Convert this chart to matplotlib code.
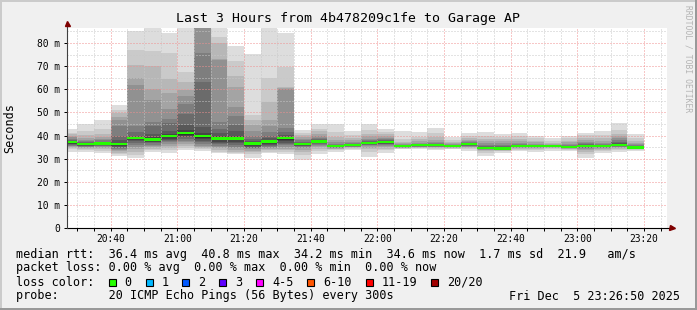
import numpy as np
import matplotlib
matplotlib.use("Agg")
from matplotlib import pyplot as plt
from matplotlib.patches import Rectangle

# 5 minute rounds, 20 pings each (sorted, ms)
bar_times = ["20:25", "20:30", "20:35", "20:40", "20:45", "20:50", "20:55",
             "21:00", "21:05", "21:10", "21:15", "21:20", "21:25", "21:30",
             "21:35", "21:40", "21:45", "21:50", "21:55", "22:00", "22:05",
             "22:10", "22:15", "22:20", "22:25", "22:30", "22:35", "22:40",
             "22:45", "22:50", "22:55", "23:00", "23:05", "23:10", "23:15"]

pings = [
    [33.0, 34.0, 34.6, 35.0, 35.3, 35.6, 35.9, 36.2, 36.5, 36.8, 37.2, 37.5, 37.8, 38.2, 38.6, 39.2, 40.0, 40.6, 41.2, 42.6],
    [32.8, 33.8, 34.3, 34.7, 35.0, 35.2, 35.4, 35.6, 35.8, 35.9, 36.1, 36.3, 36.6, 37.0, 37.5, 38.2, 39.0, 40.2, 42.0, 45.0],
    [32.6, 33.5, 34.2, 34.7, 35.0, 35.3, 35.6, 35.8, 36.0, 36.2, 36.4, 36.7, 37.0, 37.4, 37.9, 38.6, 39.5, 40.8, 43.0, 46.7],
    [31.0, 31.8, 32.6, 33.3, 33.8, 34.2, 34.6, 35.0, 35.4, 35.8, 36.2, 36.8, 38.0, 40.0, 44.0, 46.7, 48.1, 49.7, 51.0, 53.2],
    [30.1, 31.5, 33.0, 34.0, 35.0, 36.0, 36.8, 37.5, 38.0, 38.4, 38.8, 39.3, 40.0, 41.5, 44.1, 61.8, 64.7, 70.5, 76.9, 85.0],
    [32.8, 33.6, 34.3, 35.0, 35.6, 36.1, 36.6, 37.0, 37.4, 37.8, 38.4, 39.2, 40.5, 44.0, 46.0, 55.4, 60.0, 70.1, 76.7, 86.3],
    [32.5, 33.6, 34.6, 35.5, 36.3, 37.0, 37.6, 38.2, 38.7, 39.2, 39.8, 40.5, 42.0, 45.3, 47.3, 51.4, 58.5, 64.6, 75.5, 84.2],
    [33.6, 34.4, 35.3, 36.2, 37.0, 37.8, 38.5, 39.2, 39.8, 40.4, 41.2, 42.5, 44.5, 49.5, 53.5, 57.2, 59.5, 63.0, 67.5, 86.3],
    [33.5, 34.0, 34.5, 35.0, 35.6, 36.3, 37.0, 37.8, 38.4, 39.0, 40.0, 41.0, 43.8, 63.3, 75.5, 88.0, 92.0, 96.0, 100.0, 110.0],
    [32.3, 33.0, 33.8, 34.4, 35.0, 35.6, 36.2, 36.8, 37.4, 38.0, 39.0, 39.8, 41.0, 43.0, 46.0, 72.8, 73.2, 79.9, 82.7, 87.5],
    [32.1, 32.5, 33.0, 33.8, 34.5, 35.2, 36.0, 36.8, 37.4, 38.0, 39.0, 40.0, 41.8, 44.5, 48.6, 52.4, 61.0, 65.8, 72.4, 78.8],
    [30.1, 31.8, 32.8, 33.5, 34.0, 34.4, 34.8, 35.2, 35.6, 36.0, 36.6, 37.0, 37.5, 38.5, 40.0, 42.0, 44.5, 46.7, 49.0, 75.2],
    [32.3, 33.0, 33.7, 34.3, 34.8, 35.2, 35.6, 36.0, 36.4, 36.9, 37.5, 38.0, 38.8, 39.8, 41.5, 44.0, 46.5, 54.5, 64.9, 86.3],
    [32.0, 32.8, 33.6, 34.3, 35.0, 35.7, 36.3, 36.9, 37.5, 38.2, 39.0, 39.5, 40.2, 41.5, 43.1, 60.3, 60.6, 61.0, 69.8, 84.2],
    [29.5, 31.5, 33.0, 33.8, 34.4, 34.9, 35.3, 35.6, 35.8, 35.9, 36.1, 36.4, 36.8, 37.3, 37.9, 38.6, 39.4, 40.2, 41.2, 42.4],
    [31.9, 33.2, 34.2, 34.9, 35.5, 35.9, 36.3, 36.6, 36.9, 37.1, 37.3, 37.6, 38.0, 38.5, 39.1, 39.9, 40.8, 41.8, 43.0, 45.0],
    [33.0, 33.6, 34.0, 34.3, 34.6, 34.8, 35.0, 35.1, 35.2, 35.3, 35.4, 35.6, 35.8, 36.1, 36.5, 37.1, 38.0, 39.2, 41.5, 45.0],
    [33.7, 34.2, 34.6, 34.9, 35.1, 35.2, 35.3, 35.4, 35.5, 35.6, 35.7, 35.8, 36.0, 36.3, 36.7, 37.2, 38.0, 39.0, 40.3, 42.0],
    [30.9, 32.8, 34.0, 34.8, 35.3, 35.7, 36.0, 36.2, 36.4, 36.5, 36.6, 36.8, 37.1, 37.5, 38.0, 38.7, 39.6, 40.8, 42.5, 45.0],
    [32.6, 33.6, 34.3, 34.9, 35.4, 35.8, 36.2, 36.5, 36.7, 36.8, 37.0, 37.2, 37.5, 37.9, 38.4, 39.0, 39.8, 40.7, 41.6, 42.7],
    [34.0, 34.3, 34.5, 34.7, 34.8, 34.9, 35.0, 35.1, 35.1, 35.2, 35.3, 35.4, 35.5, 35.7, 35.9, 36.2, 36.6, 37.2, 38.5, 42.0],
    [34.0, 34.4, 34.7, 34.9, 35.1, 35.2, 35.3, 35.4, 35.5, 35.6, 35.7, 35.8, 36.0, 36.2, 36.5, 36.9, 37.5, 38.3, 39.5, 41.4],
    [33.7, 34.2, 34.6, 34.9, 35.1, 35.2, 35.3, 35.4, 35.5, 35.6, 35.7, 35.8, 36.0, 36.3, 36.7, 37.3, 38.2, 39.4, 41.0, 43.2],
    [34.0, 34.3, 34.6, 34.8, 34.9, 35.0, 35.1, 35.1, 35.2, 35.2, 35.3, 35.4, 35.5, 35.7, 35.9, 36.2, 36.6, 37.2, 38.2, 39.5],
    [33.4, 34.0, 34.5, 34.9, 35.2, 35.4, 35.6, 35.8, 35.9, 36.0, 36.1, 36.2, 36.4, 36.7, 37.0, 37.5, 38.1, 38.8, 39.8, 41.0],
    [31.1, 32.5, 33.2, 33.6, 33.9, 34.1, 34.2, 34.3, 34.4, 34.5, 34.6, 34.8, 35.1, 35.5, 36.0, 36.7, 37.6, 38.6, 39.9, 41.4],
    [32.6, 33.1, 33.4, 33.6, 33.8, 33.9, 34.0, 34.1, 34.2, 34.2, 34.3, 34.5, 34.8, 35.3, 35.9, 36.7, 37.6, 38.5, 39.5, 40.7],
    [33.4, 33.9, 34.3, 34.6, 34.8, 34.9, 35.0, 35.1, 35.1, 35.2, 35.3, 35.4, 35.6, 35.9, 36.3, 36.9, 37.6, 38.5, 39.6, 41.0],
    [33.0, 33.7, 34.2, 34.5, 34.7, 34.9, 35.0, 35.1, 35.1, 35.2, 35.3, 35.4, 35.5, 35.7, 36.0, 36.4, 37.0, 37.8, 38.8, 39.9],
    [33.4, 34.0, 34.4, 34.7, 34.9, 35.0, 35.1, 35.1, 35.2, 35.2, 35.3, 35.3, 35.4, 35.5, 35.7, 35.9, 36.3, 36.8, 37.6, 38.8],
    [33.4, 33.8, 34.1, 34.3, 34.4, 34.5, 34.6, 34.6, 34.7, 34.7, 34.8, 34.9, 35.1, 35.4, 35.8, 36.3, 37.0, 37.8, 38.8, 39.9],
    [30.1, 31.8, 32.9, 33.6, 34.1, 34.5, 34.8, 35.0, 35.1, 35.2, 35.3, 35.5, 35.8, 36.2, 36.7, 37.3, 38.1, 39.0, 40.0, 41.0],
    [32.6, 33.3, 33.8, 34.2, 34.5, 34.7, 34.9, 35.0, 35.1, 35.2, 35.3, 35.4, 35.6, 35.9, 36.3, 36.9, 37.7, 38.8, 40.3, 42.0],
    [33.0, 33.7, 34.2, 34.6, 34.9, 35.1, 35.3, 35.4, 35.5, 35.6, 35.7, 36.0, 36.6, 37.3, 38.2, 39.0, 39.8, 40.8, 42.5, 45.3],
    [33.4, 33.8, 34.0, 34.2, 34.3, 34.4, 34.5, 34.5, 34.6, 34.6, 34.7, 34.8, 35.0, 35.3, 35.7, 36.2, 36.9, 37.8, 39.0, 40.7],
]

median = [37.0, 36.0, 36.3, 36.0, 38.6, 38.1, 39.5, 40.8, 39.5, 38.5, 38.5, 36.3,
          37.2, 38.6, 36.0, 37.2, 35.3, 35.6, 36.5, 36.9, 35.2, 35.6, 35.6, 35.2,
          36.0, 34.5, 34.2, 35.2, 35.2, 35.2, 34.7, 35.2, 35.2, 35.6, 34.6]

view_start, view_end = "20:26:50", "23:26:50"
xtick_labels = ["20:40", "21:00", "21:20", "21:40", "22:00", "22:20", "22:40", "23:00", "23:20"]
ytick_values = [0, 10, 20, 30, 40, 50, 60, 70, 80]
ytick_labels = ["0", "10 m", "20 m", "30 m", "40 m", "50 m", "60 m", "70 m", "80 m"]

loss_labels = ["0", "1", "2", "3", "4-5", "6-10", "11-19", "20/20"]
loss_colors = ["#26ff00", "#00b8ff", "#0059ff", "#5e00ff", "#ff00ff", "#ff5500", "#ff0000", "#a10000"]

title = "Last 3 Hours from 4b478209c1fe to Garage AP"
legend_rows = [
    "median rtt:  36.4 ms avg  40.8 ms max  34.2 ms min  34.6 ms now  1.7 ms sd  21.9   am/s",
    "packet loss: 0.00 % avg  0.00 % max  0.00 % min  0.00 % now",
    "loss color:",
    "probe:       20 ICMP Echo Pings (56 Bytes) every 300s",
]
stamp = "Fri Dec  5 23:26:50 2025"


def to_min(s):
    parts = [float(p) for p in s.split(":")]
    return parts[0] * 60 + parts[1] + (parts[2] / 60 if len(parts) > 2 else 0)


W, H = 697, 310
MONO = "DejaVu Sans Mono"


def fx(x):
    return x / W


def fy(y):
    return 1 - y / H


fig = plt.figure(figsize=(W / 100, H / 100), dpi=100)
fig.patch.set_facecolor("#f0f0f0")

ax = fig.add_axes([fx(66.7), fy(228), 600 / W, 200 / H])
ax.set_facecolor("white")

x0 = np.array([to_min(t) for t in bar_times])
p = np.array(pings)
med = np.array(median)

# smoke: outer pairs light, inner pairs dark
for i in range(10):
    g = int(190 / 10 * (10 - (i + 1))) + 50
    col = "#%02x%02x%02x" % (g, g, g)
    ax.bar(x0, p[:, 19 - i] - p[:, i], bottom=p[:, i], width=5, align="edge",
           color=col, linewidth=0, zorder=2)

# median band
ax.bar(x0, 1.0, bottom=med - 0.3, width=5, align="edge", color="#26ff00",
       linewidth=0, zorder=3)

xmin, xmax = to_min(view_start), to_min(view_end)
ax.set_xlim(xmin, xmax)
ax.set_ylim(0, 200 / 2.3125)

ax.set_xticks([to_min(t) for t in xtick_labels])
ax.set_xticklabels(xtick_labels)
ax.set_xticks(np.arange(1230, 1406, 5), minor=True)
ax.set_yticks(ytick_values)
ax.set_yticklabels(ytick_labels)
ax.set_yticks(np.arange(5, 90, 5), minor=True)

ax.set_axisbelow(False)
dots = (0, (1, 2))
ax.grid(which="minor", color="#c8c8c8", linestyle=dots, linewidth=0.72, zorder=4)
ax.grid(which="major", color="#f09090", linestyle=dots, linewidth=0.72, zorder=4)

ax.tick_params(which="both", labelsize=6.9, colors="#000000", length=2,
               width=0.72, direction="out", pad=3)
ax.tick_params(axis="y", which="minor", length=0)
ax.tick_params(axis="x", which="both", pad=2.5)
for lab in ax.get_xticklabels() + ax.get_yticklabels():
    lab.set_family(MONO)
for s in ax.spines.values():
    s.set_visible(False)

# axes with arrows
ax.plot([0, 1.006], [0, 0], transform=ax.transAxes, color="#000000", lw=0.8,
        clip_on=False, zorder=5)
ax.plot([0, 0], [0, 1.015], transform=ax.transAxes, color="#404040", lw=0.8,
        clip_on=False, zorder=5)
ax.plot([1.009], [0], marker=">", ms=3.6, color="#7f0000", transform=ax.transAxes,
        clip_on=False, zorder=6)
ax.plot([0], [1.027], marker="^", ms=3.6, color="#7f0000", transform=ax.transAxes,
        clip_on=False, zorder=6)

fig.text(fx(348), fy(18.5), title, ha="center", va="center", fontsize=9.5, family=MONO)
fig.text(fx(10), fy(128), "Seconds", rotation=90, ha="center", va="center",
         fontsize=8.5, family=MONO)
fig.text(fx(688), fy(59), "RRDTOOL / TOBI OETIKER", rotation=270, ha="center",
         va="center", fontsize=5.8, family=MONO, color="#b4b4b4")

row_y = [254.3, 267.7, 282.3, 296]
for txt, y in zip(legend_rows, row_y):
    fig.text(fx(16), fy(y), txt, ha="left", va="center", fontsize=8.5, family=MONO)
fig.text(fx(680), fy(row_y[3]), stamp, ha="right", va="center", fontsize=8.5, family=MONO)

box_x = [108.7, 145.7, 182.3, 219, 256, 307.3, 365.7, 430.7]
for bx, lab, col in zip(box_x, loss_labels, loss_colors):
    fig.add_artist(Rectangle((fx(bx), fy(row_y[2] + 3.6)), 7 / W, 7 / H,
                             transform=fig.transFigure, facecolor=col,
                             edgecolor="black", linewidth=0.8))
    fig.text(fx(bx + 16), fy(row_y[2]), lab, ha="left", va="center",
             fontsize=8.5, family=MONO)

# frame shading
fig.add_artist(Rectangle((0, fy(2)), 1, 2 / H, transform=fig.transFigure,
                         facecolor="#cbcbcb", linewidth=0))
fig.add_artist(Rectangle((0, 0), 2 / W, 1, transform=fig.transFigure,
                         facecolor="#cbcbcb", linewidth=0))
fig.add_artist(Rectangle((0, 0), 1, 2 / H, transform=fig.transFigure,
                         facecolor="#999999", linewidth=0))
fig.add_artist(Rectangle((fx(W - 2), 0), 2 / W, 1, transform=fig.transFigure,
                         facecolor="#999999", linewidth=0))

fig.savefig("out.png", dpi=100, facecolor=fig.get_facecolor())
